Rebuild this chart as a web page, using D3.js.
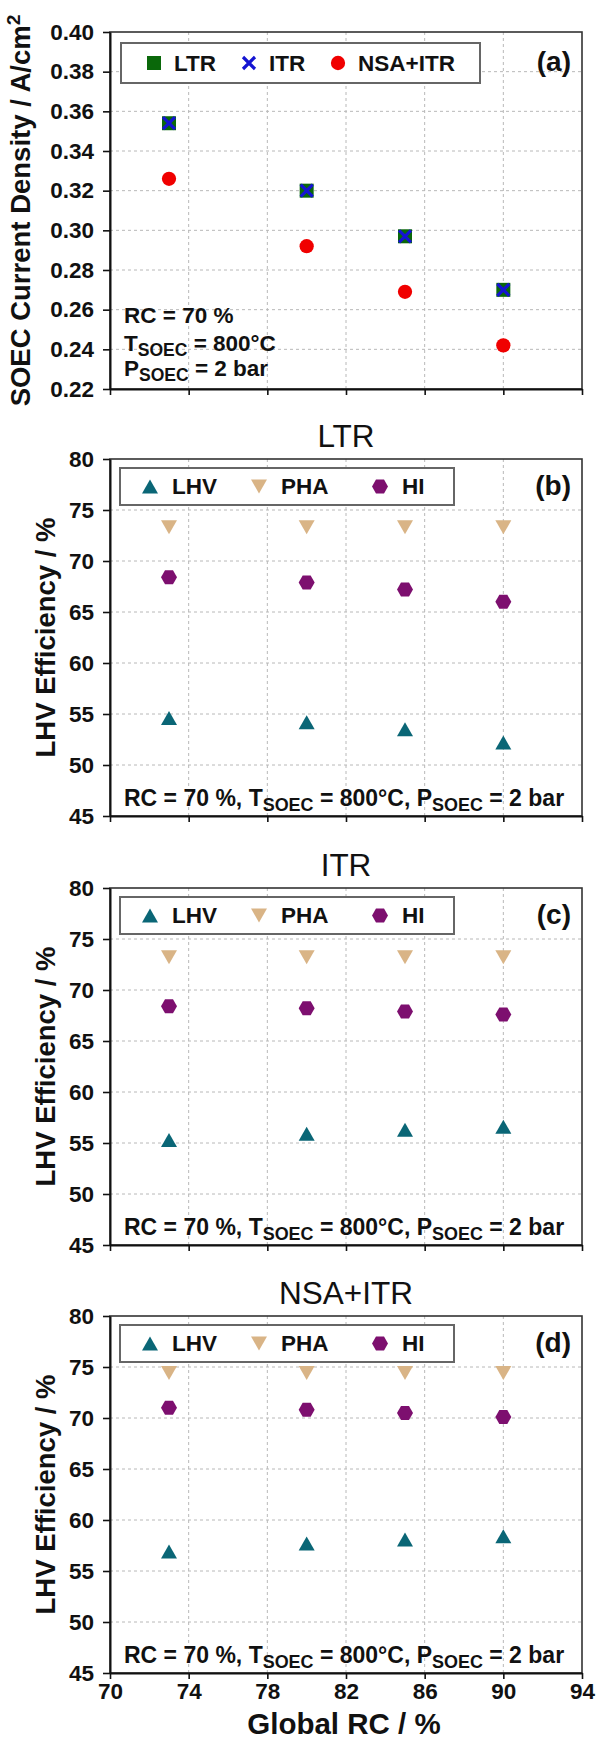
<!DOCTYPE html>
<html>
<head>
<meta charset="utf-8">
<script src="https://cdn.jsdelivr.net/npm/d3@7"></script>
<style>
  body { margin: 0; background: #fff; }
  svg { display: block; }
</style>
</head>
<body>
<svg id="chart"></svg>
<script>
// ---- data ----
const rc = [73, 80, 85, 90];
const xTicks = [70, 74, 78, 82, 86, 90, 94];
const densityTicks = [0.22, 0.24, 0.26, 0.28, 0.30, 0.32, 0.34, 0.36, 0.38, 0.40];
const effTicks = [45, 50, 55, 60, 65, 70, 75, 80];

const densityLTR = [0.354, 0.320, 0.297, 0.270];
const densityITR = [0.354, 0.320, 0.297, 0.270];
const densityNSA = [0.326, 0.292, 0.269, 0.242];

const ltrLHV = [54.6, 54.2, 53.5, 52.2];
const ltrPHA = [73.3, 73.3, 73.3, 73.3];
const ltrHI  = [68.4, 67.9, 67.2, 66.0];

const itrLHV = [55.3, 55.9, 56.3, 56.6];
const itrPHA = [73.2, 73.2, 73.2, 73.2];
const itrHI  = [68.4, 68.2, 67.9, 67.6];

const nsaLHV = [56.9, 57.7, 58.1, 58.4];
const nsaPHA = [74.4, 74.4, 74.4, 74.4];
const nsaHI  = [71.0, 70.8, 70.5, 70.1];

const FONT = '"Liberation Sans", Arial, sans-serif';
const col = {
    ltr: '#0a680a', itr: '#1414d2', nsa: '#f00000',
    lhv: '#0a6676', pha: '#d9b486', hi: '#7d0f6f'
};

const svg = d3.select('#chart').attr('width', 598).attr('height', 1741);
svg.append('rect').attr('width', 598).attr('height', 1741).attr('fill', '#fff');

const x = d3.scaleLinear().domain([70, 94]).range([110, 582]);
const plotH = 357;

// marker shapes
const shapes = {
    square: 'M-7,-7H7V7H-7Z',
    cross: 'M-6,-6L6,6M-6,6L6,-6',
    circle: d3.symbol(d3.symbolCircle, 160)(),
    triUp: 'M0,-7L8,7L-8,7Z',
    triDown: 'M0,7L8,-7L-8,-7Z',
    hex: 'M-8,0L-4,-7H4L8,0L4,7H-4Z'
};

function drawMarker(g, shape, color, cx, cy) {
    const p = g.append('path')
        .attr('d', shapes[shape])
        .attr('transform', `translate(${cx},${cy})`);
    if (shape === 'cross') {
        p.attr('fill', 'none').attr('stroke', color).attr('stroke-width', 3.2);
    } else {
        p.attr('fill', color);
    }
}

// text with sub/superscript parts: [text, 'sub'|'sup'|undefined]
function richText(sel, parts, size) {
    let shift = 0;
    parts.forEach(([t, kind]) => {
        let target = 0;
        let fs = size;
        if (kind === 'sub') { target = 5; fs = size * 0.78; }
        if (kind === 'sup') { target = -10; fs = size * 0.7; }
        sel.append('tspan')
            .attr('dy', target - shift)
            .attr('font-size', fs)
            .text(t);
        shift = target;
    });
}

function panel(top, yDomain, yTicks, fmt, showX) {
    const y = d3.scaleLinear().domain(yDomain).range([top + plotH, top]);
    const g = svg.append('g');

    // grid
    g.selectAll('.hg').data(yTicks.slice(1, -1)).join('line')
        .attr('x1', x(70)).attr('x2', x(94))
        .attr('y1', d => y(d)).attr('y2', d => y(d))
        .attr('stroke', '#b8b8b8').attr('stroke-dasharray', '3,3');
    g.selectAll('.vg').data(xTicks.slice(1, -1)).join('line')
        .attr('x1', d => x(d)).attr('x2', d => x(d))
        .attr('y1', top).attr('y2', top + plotH)
        .attr('stroke', '#b8b8b8').attr('stroke-dasharray', '3,3');

    // frame
    g.append('rect')
        .attr('x', x(70)).attr('y', top)
        .attr('width', x(94) - x(70)).attr('height', plotH)
        .attr('fill', 'none').attr('stroke', '#333').attr('stroke-width', 1.6);

    // y axis
    const ya = g.append('g')
        .attr('transform', `translate(${x(70)},0)`)
        .call(d3.axisLeft(y).tickValues(yTicks).tickFormat(fmt)
            .tickSize(7).tickSizeOuter(0).tickPadding(9));
    ya.attr('font-family', FONT).attr('font-size', 22.5).attr('font-weight', 'bold');
    ya.select('.domain').attr('stroke', '#111').attr('stroke-width', 2);
    ya.selectAll('.tick line').attr('stroke', '#111').attr('stroke-width', 1.6);
    ya.selectAll('.tick text').attr('fill', '#111');

    // x axis
    const xa = g.append('g')
        .attr('transform', `translate(0,${top + plotH})`)
        .call(d3.axisBottom(x).tickValues(xTicks)
            .tickFormat(showX ? d3.format('d') : () => '')
            .tickSize(6).tickSizeOuter(0).tickPadding(4));
    xa.attr('font-family', FONT).attr('font-size', 22.5).attr('font-weight', 'bold');
    xa.select('.domain').attr('stroke', '#111').attr('stroke-width', 2);
    xa.selectAll('.tick line').attr('stroke', '#111').attr('stroke-width', 1.6);
    xa.selectAll('.tick text').attr('fill', '#111');

    return { g, y };
}

// ---------- panel (a) ----------
const pa = panel(32, [0.22, 0.40], densityTicks, d3.format('.2f'), false);

// legend (a)
pa.g.append('rect').attr('x', 121).attr('y', 43).attr('width', 359).attr('height', 40)
    .attr('fill', '#fff').attr('stroke', '#666').attr('stroke-width', 2);
[
    ['square', col.ltr, 154, 'LTR'],
    ['cross', col.itr, 249, 'ITR'],
    ['circle', col.nsa, 338, 'NSA+ITR']
].forEach(([s, c, lx, label]) => {
    drawMarker(pa.g, s, c, lx, 63);
    pa.g.append('text').attr('x', lx + 20).attr('y', 70.5)
        .attr('font-family', FONT).attr('font-size', 22.5).attr('font-weight', 'bold')
        .attr('fill', '#111').text(label);
});

pa.g.append('text').attr('x', 571).attr('y', 71).attr('text-anchor', 'end')
    .attr('font-family', FONT).attr('font-size', 28).attr('font-weight', 'bold')
    .attr('fill', '#111').text('(a)');

rc.forEach((v, i) => drawMarker(pa.g, 'square', col.ltr, x(v), pa.y(densityLTR[i])));
rc.forEach((v, i) => drawMarker(pa.g, 'cross', col.itr, x(v), pa.y(densityITR[i])));
rc.forEach((v, i) => drawMarker(pa.g, 'circle', col.nsa, x(v), pa.y(densityNSA[i])));

// conditions (a)
[
    [[['RC = 70 %']], 323],
    [[['T'], ['SOEC', 'sub'], [' = 800°C']], 351],
    [[['P'], ['SOEC', 'sub'], [' = 2 bar']], 376]
].forEach(([parts, by]) => {
    const t = pa.g.append('text').attr('x', 124).attr('y', by)
        .attr('font-family', FONT).attr('font-weight', 'bold').attr('fill', '#111');
    richText(t, parts, 22.5);
});

// y title (a)
const ta = svg.append('text')
    .attr('transform', `translate(30,${32 + plotH / 2}) rotate(-90)`)
    .attr('text-anchor', 'middle')
    .attr('font-family', FONT).attr('font-size', 27.5).attr('font-weight', 'bold').attr('fill', '#111');
richText(ta, [['SOEC Current Density / A/cm'], ['2', 'sup']], 27.5);

// ---------- panels (b)-(d) ----------
const effPanels = [
    { top: 459, title: 'LTR', tag: '(b)', lhv: ltrLHV, pha: ltrPHA, hi: ltrHI },
    { top: 888, title: 'ITR', tag: '(c)', lhv: itrLHV, pha: itrPHA, hi: itrHI },
    { top: 1316, title: 'NSA+ITR', tag: '(d)', lhv: nsaLHV, pha: nsaPHA, hi: nsaHI }
];

effPanels.forEach((p, k) => {
    const last = k === effPanels.length - 1;
    const { g, y } = panel(p.top, [45, 80], effTicks, d3.format('d'), last);

    svg.append('text').attr('x', 346).attr('y', p.top - 12).attr('text-anchor', 'middle')
        .attr('font-family', FONT).attr('font-size', 31.5).attr('fill', '#111').text(p.title);

    // legend
    g.append('rect').attr('x', 120).attr('y', p.top + 9).attr('width', 334).attr('height', 37)
        .attr('fill', '#fff').attr('stroke', '#666').attr('stroke-width', 2);
    [
        ['triUp', col.lhv, 150, 'LHV'],
        ['triDown', col.pha, 259, 'PHA'],
        ['hex', col.hi, 380, 'HI']
    ].forEach(([s, c, lx, label]) => {
        drawMarker(g, s, c, lx, p.top + 27.5);
        g.append('text').attr('x', lx + 22).attr('y', p.top + 35)
            .attr('font-family', FONT).attr('font-size', 22.5).attr('font-weight', 'bold')
            .attr('fill', '#111').text(label);
    });

    g.append('text').attr('x', 571).attr('y', p.top + 36).attr('text-anchor', 'end')
        .attr('font-family', FONT).attr('font-size', 28).attr('font-weight', 'bold')
        .attr('fill', '#111').text(p.tag);

    rc.forEach((v, i) => drawMarker(g, 'triDown', col.pha, x(v), y(p.pha[i])));
    rc.forEach((v, i) => drawMarker(g, 'hex', col.hi, x(v), y(p.hi[i])));
    rc.forEach((v, i) => drawMarker(g, 'triUp', col.lhv, x(v), y(p.lhv[i])));

    const note = g.append('text').attr('x', 124).attr('y', p.top + plotH - 10.5)
        .attr('font-family', FONT).attr('font-weight', 'bold').attr('fill', '#111');
    richText(note, [['RC = 70 %, T'], ['SOEC', 'sub'], [' = 800°C, P'], ['SOEC', 'sub'], [' = 2 bar']], 23);

    svg.append('text')
        .attr('transform', `translate(55,${p.top + plotH / 2}) rotate(-90)`)
        .attr('text-anchor', 'middle')
        .attr('font-family', FONT).attr('font-size', 27.5).attr('font-weight', 'bold')
        .attr('fill', '#111').text('LHV Efficiency / %');
});

// x title
svg.append('text').attr('x', 344).attr('y', 1734).attr('text-anchor', 'middle')
    .attr('font-family', FONT).attr('font-size', 29.5).attr('font-weight', 'bold')
    .attr('fill', '#111').text('Global RC / %');
</script>
</body>
</html>
